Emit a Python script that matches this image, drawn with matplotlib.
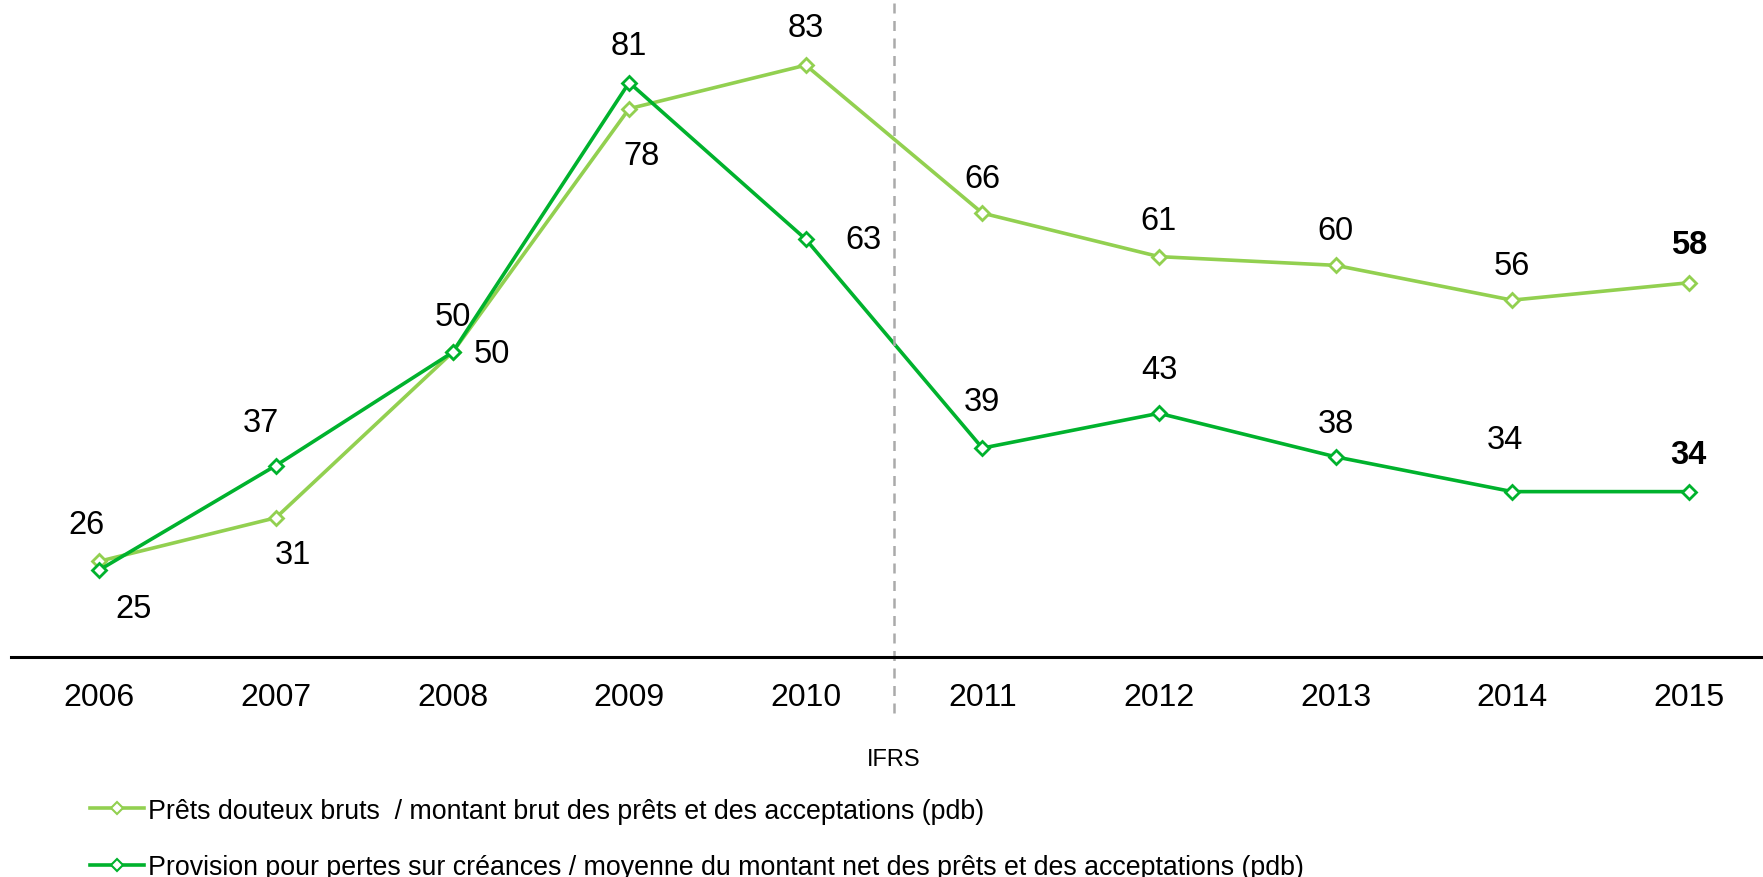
import matplotlib.pyplot as plt
from matplotlib.lines import Line2D

plt.rcParams['font.family'] = ['Liberation Sans', 'DejaVu Sans']

years = ['2006', '2007', '2008', '2009', '2010', '2011', '2012', '2013', '2014', '2015']
gross = [26, 31, 50, 78, 83, 66, 61, 60, 56, 58]
provision = [25, 37, 50, 81, 63, 39, 43, 38, 34, 34]

gross_label = "Prêts douteux bruts  / montant brut des prêts et des acceptations (pdb)"
prov_label = "Provision pour pertes sur créances / moyenne du montant net des prêts et des acceptations (pdb)"

light = "#92D050"
dark = "#00B22D"

# label offsets in pixels (dx, dy)
gross_off = [(-13, 37), (17, -37), (39, -1), (12, -47), (0, 38),
             (0, 35), (0, 36), (0, 35), (0, 35), (0, 38)]
prov_off = [(34, -39), (-15, 43), (0, 36), (0, 37), (58, 0),
            (0, 47), (0, 44), (0, 33), (-7, 52), (0, 37)]

fig = plt.figure(figsize=(17.63, 8.78), dpi=100)
ax = fig.add_axes([11 / 1763, 1 - 658 / 878, 1 - 11 / 1763, 658 / 878])

x = list(range(len(years)))
ax.plot(x, gross, color=light, lw=2.6, marker='D', ms=7.5, mfc='white', mec=light, mew=2)
ax.plot(x, provision, color=dark, lw=2.6, marker='D', ms=7.5, mfc='white', mec=dark, mew=2)

last = len(years) - 1
for i, (v, off) in enumerate(zip(gross, gross_off)):
    ax.annotate(str(v), (i, v), xytext=off, textcoords='offset pixels',
                ha='center', va='center', fontsize=23.5,
                fontweight='bold' if i == last else 'normal')
for i, (v, off) in enumerate(zip(provision, prov_off)):
    ax.annotate(str(v), (i, v), xytext=off, textcoords='offset pixels',
                ha='center', va='center', fontsize=23.5,
                fontweight='bold' if i == last else 'normal')

ax.set_xlim(-0.5, 9.42)
ax.set_ylim(15, 90.6)
for s in ['top', 'right', 'left']:
    ax.spines[s].set_visible(False)
ax.spines['bottom'].set_linewidth(2.2)
ax.set_yticks([])
ax.set_xticks(x)
ax.set_xticklabels(years, fontsize=23)
ax.tick_params(axis='x', length=0, pad=18)

# IFRS separator
ax.axvline(4.5, ymin=-0.085, ymax=1.0, color='#AAAAAA', ls=(0, (4, 3)), lw=1.8, clip_on=False)
fig.text(894 / 1763, 1 - 760 / 878, "IFRS", ha='center', va='center', fontsize=17)

handles = [Line2D([], [], color=light, lw=2.6, marker='D', ms=6, mfc='white', mec=light, mew=1.5),
           Line2D([], [], color=dark, lw=2.6, marker='D', ms=6, mfc='white', mec=dark, mew=1.5)]
fig.legend(handles, [gross_label, prov_label], loc='upper left',
           bbox_to_anchor=(66 / 1763, 0.118), frameon=False, fontsize=19.3,
           handlelength=2.0, handletextpad=0.15, labelspacing=1.15)

fig.savefig('out.png', dpi=100)
